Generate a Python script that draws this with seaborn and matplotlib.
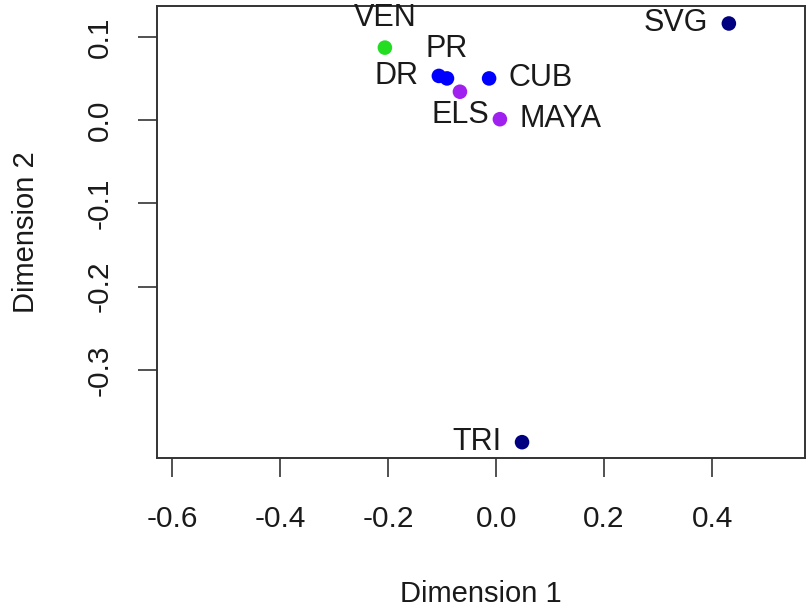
import pandas as pd
import matplotlib
matplotlib.use("Agg")
import matplotlib.pyplot as plt
import seaborn as sns

# ==========================================
# Data
# ==========================================

names = ["VEN", "DR", "PR", "CUB", "ELS", "MAYA", "SVG", "TRI"]
dim1 = [-0.206, -0.106, -0.091, -0.013, -0.067, 0.007, 0.431, 0.048]
dim2 = [0.087, 0.053, 0.050, 0.050, 0.034, 0.001, 0.116, -0.387]
group = ["g1", "g2", "g2", "g2", "g3", "g3", "g4", "g4"]

# label placement, R style: 1 below, 2 left, 3 above, 4 right
label_pos = [3, 2, 3, 4, 1, 4, 2, 2]

palette = {"g1": "#22dd22", "g2": "#0000ff", "g3": "#a020f0", "g4": "#000080"}

df = pd.DataFrame({"name": names, "Dimension 1": dim1,
                   "Dimension 2": dim2, "group": group})

# ==========================================
# Plot
# ==========================================

sns.set_style("white")
plt.rcParams["font.family"] = ["Liberation Sans", "DejaVu Sans"]

fig = plt.figure(figsize=(8.06, 6.10), dpi=100)
ax = fig.add_axes([157 / 806, 1 - 458 / 610, 648 / 806, 452 / 610])

sns.scatterplot(
    data=df,
    x="Dimension 1",
    y="Dimension 2",
    hue="group",
    palette=palette,
    s=110,
    edgecolor="none",
    legend=False,
    ax=ax
)

offsets = {
    1: ((0, -17), "center", "center"),
    2: ((-15, 0), "right", "center"),
    3: ((0, 21), "center", "center"),
    4: ((14, 0), "left", "center"),
}
for name, x, y, p in zip(names, dim1, dim2, label_pos):
    off, ha, va = offsets[p]
    ax.annotate(name, (x, y), xytext=off, textcoords="offset points",
                ha=ha, va=va, fontsize=22, color="#1a1a1a")

ax.set_xlim(-0.628, 0.572)
ax.set_ylim(-0.406, 0.137)
ax.set_xticks([-0.6, -0.4, -0.2, 0.0, 0.2, 0.4])
ax.set_yticks([-0.3, -0.2, -0.1, 0.0, 0.1])
ax.set_xticklabels(["-0.6", "-0.4", "-0.2", "0.0", "0.2", "0.4"])
ax.set_yticklabels(["-0.3", "-0.2", "-0.1", "0.0", "0.1"],
                   rotation=90, va="center")

ax.tick_params(axis="both", direction="out", length=14, width=1.2,
               color="#333333", labelsize=21.5, labelcolor="#1a1a1a",
               bottom=True, left=True)
ax.tick_params(axis="x", pad=20)
ax.tick_params(axis="y", pad=17)

for sp in ax.spines.values():
    sp.set_visible(True)
    sp.set_color("#333333")
    sp.set_linewidth(1.4)

ax.set_xlabel("Dimension 1", fontsize=21, color="#1a1a1a", labelpad=34)
ax.set_ylabel("Dimension 2", fontsize=21, color="#1a1a1a", labelpad=33)

fig.savefig("out.png", dpi=100)
